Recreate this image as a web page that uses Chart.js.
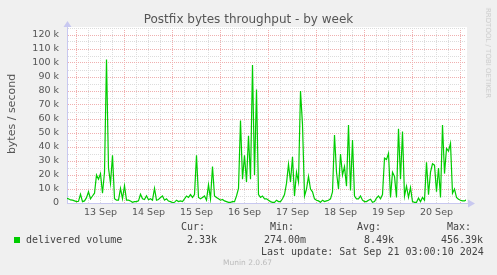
<!DOCTYPE html>
<html>
<head>
<meta charset="utf-8">
<script src="https://cdn.jsdelivr.net/npm/chart.js@4/dist/chart.umd.min.js"></script>
<style>
  body { margin: 0; background: #f0f0f0; }
  #wrap { position: relative; width: 497px; height: 275px; overflow: hidden; }
  #chart { position: absolute; left: 0; top: 0; }
  .t { position: absolute; white-space: pre; line-height: 12px; }
  .mono { font-family: "DejaVu Sans Mono", monospace; font-size: 10px; color: #444; }
</style>
</head>
<body>
<div id="wrap">
  <canvas id="chart" width="497" height="275"></canvas>
  <div class="t" style="left:0;width:497px;top:12px;text-align:center;font:12px 'DejaVu Sans';color:#555;">Postfix bytes throughput - by week</div>
  <div class="t" style="left:11px;top:114px;font:11px 'DejaVu Sans';color:#555;transform:translate(-50%,-50%) rotate(-90deg);">bytes / second</div>
  <div class="t" style="left:488px;top:53px;font:7px 'DejaVu Sans';color:#ccc;transform:translate(-50%,-50%) rotate(90deg);">RRDTOOL / TOBI OETIKER</div>
  <div style="position:absolute;left:14px;top:237px;width:6px;height:6px;background:#00cc00;"></div>
  <div class="t mono" style="left:26px;top:234px;">delivered volume</div>
  <div class="t mono" style="left:181px;top:221px;">Cur:</div>
  <div class="t mono" style="left:270px;top:221px;">Min:</div>
  <div class="t mono" style="left:357px;top:221px;">Avg:</div>
  <div class="t mono" style="left:447px;top:221px;">Max:</div>
  <div class="t mono" style="left:187px;top:234px;">2.33k</div>
  <div class="t mono" style="left:264px;top:234px;">274.00m</div>
  <div class="t mono" style="left:364px;top:234px;">8.49k</div>
  <div class="t mono" style="left:441px;top:234px;">456.39k</div>
  <div class="t mono" style="left:261px;top:246px;">Last update: Sat Sep 21 03:00:10 2024</div>
  <div class="t" style="left:223px;top:258px;font:7.5px 'DejaVu Sans';color:#bbb;">Munin 2.0.67</div>
</div>
<script>
// hours counted from 13 Sep 00:00, one value per hour
const startHour = -5;
const deliveredK = [
  3.3, 3.0, 2.2, 2.0, 1.5,
  1.0, 1.2, 6.2, 1.0, 1.5, 3.8, 8.0, 3.0, 5.0, 7.0,
  20.0, 17.0, 21.0, 7.0, 22.0, 102.5, 25.0, 14.0, 34.0, 3.0,
  2.0, 2.0, 10.5, 3.0, 12.4, 2.0, 2.0, 1.4, 0.5, 1.0,
  1.0, 1.5, 6.2, 3.0, 2.5, 5.2, 2.3, 3.0, 2.0, 10.5,
  2.0, 2.5, 4.0, 5.0, 2.0, 3.0, 1.4, 1.0, 0.3, 0.5,
  2.0, 1.0, 1.5, 1.0, 3.0, 5.0, 4.0, 6.0, 4.0, 6.0,
  34.0, 4.0, 3.0, 4.0, 5.0, 2.0, 13.0, 3.0, 26.0, 5.0,
  4.0, 3.0, 2.0, 2.5, 1.5, 1.0, 0.5, 0.5, 1.0, 1.0,
  5.0, 10.5, 59.0, 17.0, 34.0, 15.0, 48.0, 17.0, 98.6, 20.0,
  81.0, 6.0, 4.0, 5.0, 3.0, 3.0, 2.0, 1.0, 0.5, 0.5,
  2.0, 1.0, 1.0, 3.0, 6.0, 14.0, 27.6, 15.0, 33.0, 5.0,
  22.0, 15.0, 80.0, 56.0, 5.0, 10.0, 19.0, 10.0, 8.0, 3.0,
  2.0, 1.5, 0.5, 2.0, 1.0, 1.5, 2.0, 3.0, 8.0, 48.6,
  22.0, 10.0, 35.0, 20.0, 26.0, 12.0, 55.7, 9.0, 45.0, 5.0,
  3.0, 3.0, 5.0, 2.0, 1.0, 1.0, 2.0, 2.7, 0.5, 1.0,
  3.5, 5.0, 3.0, 6.0, 32.0, 31.0, 35.5, 4.0, 22.0, 19.0,
  4.0, 53.0, 17.0, 51.0, 5.0, 12.0, 4.0, 11.0, 1.0, 0.5,
  0.5, 3.5, 1.0, 4.0, 2.0, 29.0, 6.0, 22.0, 28.0, 27.0,
  8.0, 25.0, 4.0, 55.7, 21.0, 39.0, 37.0, 42.6, 7.0, 10.0,
  4.0, 2.7, 2.0, 1.5, 1.5, 2.3
];
const dayLabels = ["13 Sep", "14 Sep", "15 Sep", "16 Sep", "17 Sep", "18 Sep", "19 Sep", "20 Sep"];

const points = deliveredK.map((v, i) => ({ x: startHour + i, y: v }));

const axisColor = "#c8c8f0";
const majorGrid = "#f0b0b0";
const minorGrid = "#dcdcdc";

// white plot background and the rrdtool style axis arrows
const munin = {
  id: "munin",
  beforeDraw(chart) {
    const { ctx, chartArea: a } = chart;
    ctx.save();
    ctx.fillStyle = "#fff";
    ctx.fillRect(a.left, a.top - 1, a.right - a.left + 1, a.bottom - a.top + 1);
    ctx.restore();
  },
  afterDraw(chart) {
    const { ctx, chartArea: a } = chart;
    const x0 = Math.round(a.left) + 0.5, y0 = Math.round(a.bottom) + 0.5;
    ctx.save();
    ctx.strokeStyle = axisColor;
    ctx.fillStyle = axisColor;
    ctx.lineWidth = 1;
    ctx.beginPath();
    ctx.moveTo(x0, a.top); ctx.lineTo(x0, 25);
    ctx.moveTo(a.right, y0); ctx.lineTo(a.right + 4, y0);
    ctx.stroke();
    ctx.beginPath();
    ctx.moveTo(x0, 21); ctx.lineTo(x0 - 4, 27); ctx.lineTo(x0 + 4, 27); ctx.closePath();
    ctx.fill();
    ctx.beginPath();
    ctx.moveTo(a.right + 9, y0); ctx.lineTo(a.right + 2, y0 - 4); ctx.lineTo(a.right + 2, y0 + 4); ctx.closePath();
    ctx.fill();
    ctx.restore();
  }
};

new Chart(document.getElementById("chart"), {
  type: "line",
  data: {
    datasets: [{
      data: points,
      borderColor: "#00cc00",
      borderWidth: 1.2,
      pointRadius: 0,
      tension: 0,
      fill: false
    }]
  },
  options: {
    responsive: false,
    animation: false,
    devicePixelRatio: 1,
    layout: { padding: { left: 0, top: 28, right: 31, bottom: 0 } },
    plugins: { legend: { display: false }, tooltip: { enabled: false } },
    scales: {
      x: {
        type: "linear",
        min: -4.75,
        max: 194.75,
        afterFit: (s) => { s.height = 72; },
        grid: {
          drawTicks: false,
          color: (c) => (c.tick && c.tick.value % 24 === 0 ? majorGrid : minorGrid)
        },
        border: { color: axisColor, dash: [1, 1] },
        ticks: {
          stepSize: 6,
          includeBounds: false,
          autoSkip: false,
          maxRotation: 0,
          padding: 4,
          color: "#555",
          font: { family: "DejaVu Sans", size: 9.5 },
          callback: (v) => ((v % 24 + 24) % 24 === 12 ? dayLabels[(v - 12) / 24] || "" : "")
        }
      },
      y: {
        min: 0,
        max: 125,
        afterFit: (s) => { s.width = 67; },
        grid: {
          drawTicks: false,
          color: (c) => (c.tick && c.tick.value % 10 === 0 ? majorGrid : minorGrid)
        },
        border: { color: axisColor, dash: [1, 1] },
        ticks: {
          stepSize: 5,
          autoSkip: false,
          padding: 8,
          color: "#555",
          font: { family: "DejaVu Sans", size: 9.5 },
          callback: (v) => (v % 10 !== 0 ? "" : v === 0 ? "0" : v + " k")
        }
      }
    }
  },
  plugins: [munin]
});
</script>
</body>
</html>
